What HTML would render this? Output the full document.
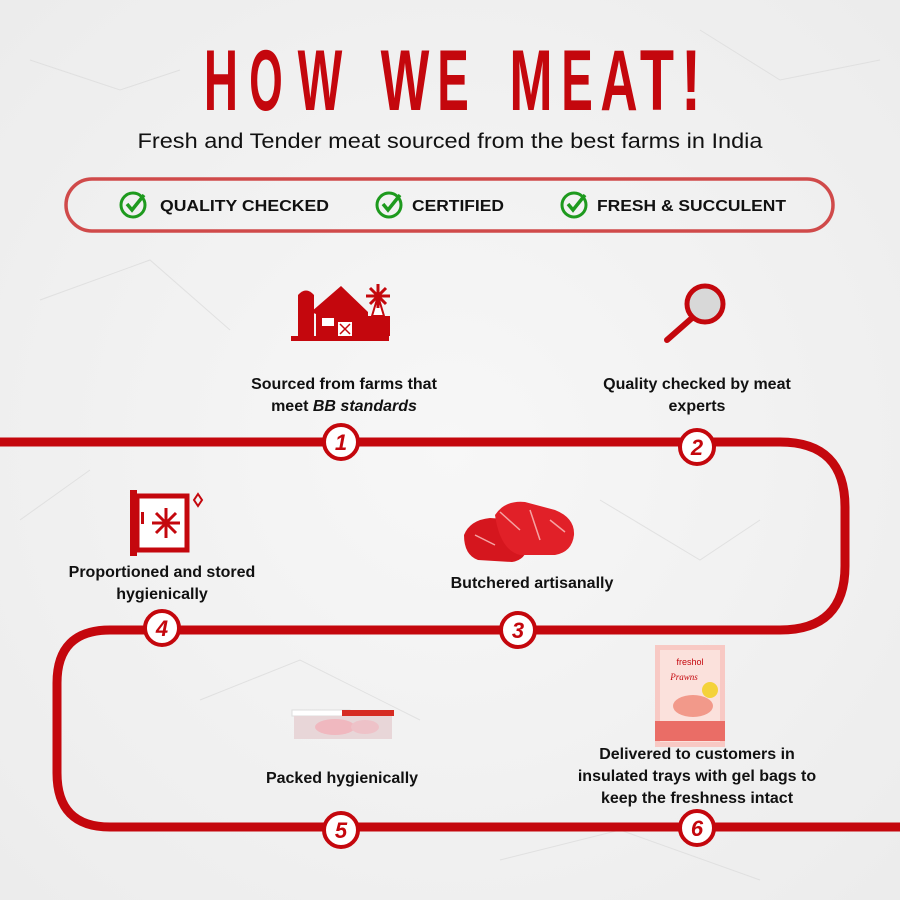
<!DOCTYPE html>
<html><head><style>
html,body{margin:0;padding:0;background:#f2f2f2;}
svg{display:block}
</style></head><body>
<svg width="900" height="900" viewBox="0 0 900 900" xmlns="http://www.w3.org/2000/svg">
<defs>
<radialGradient id="bg" cx="50%" cy="50%" r="70%"><stop offset="0" stop-color="#f7f7f7"/><stop offset="1" stop-color="#ececec"/></radialGradient>
</defs>
<rect width="900" height="900" fill="url(#bg)"/>
<g stroke="#dcdcdc" stroke-width="1" fill="none" opacity="0.8">
<path d="M30 60 L120 90 L180 70"/><path d="M700 30 L780 80 L880 60"/><path d="M40 300 L150 260 L230 330"/><path d="M600 500 L700 560 L760 520"/><path d="M200 700 L300 660 L420 720"/><path d="M500 860 L620 830 L760 880"/><path d="M20 520 L90 470"/>
</g>
<!-- title -->
<g font-family="Liberation Sans, sans-serif" font-weight="bold" font-size="86" fill="#c4070d" text-anchor="middle">
<text transform="translate(221 110) scale(0.55 1)">H</text>
<text transform="translate(266 110) scale(0.5 1)">O</text>
<text transform="translate(320 110) scale(0.55 1)">W</text>
<text transform="translate(405 110) scale(0.6 1)">W</text>
<text transform="translate(453 110) scale(0.55 1)">E</text>
<text transform="translate(531 110) scale(0.6 1)">M</text>
<text transform="translate(577 110) scale(0.55 1)">E</text>
<text transform="translate(619 110) scale(0.6 1)">A</text>
<text transform="translate(657 110) scale(0.65 1)">T</text>
<text transform="translate(691 110) scale(0.7 1)">!</text>
</g>
<text x="450" y="148" text-anchor="middle" font-family="Liberation Sans, sans-serif" font-size="21" fill="#111" textLength="625" lengthAdjust="spacingAndGlyphs">Fresh and Tender meat sourced from the best farms in India</text>
<rect x="66" y="179" width="767" height="52" rx="26" fill="none" stroke="#d04a4a" stroke-width="3.5"/>
<g font-family="Liberation Sans, sans-serif" font-weight="bold" font-size="16" fill="#111">
<g fill="none" stroke="#1e9a1e" stroke-width="3"><circle cx="133" cy="205" r="12"/><circle cx="389" cy="205" r="12"/><circle cx="574" cy="205" r="12"/>
<path d="M127 204 l5 6 l12 -15 M383 204 l5 6 l12 -15 M568 204 l5 6 l12 -15" stroke-width="3.5"/></g>
<text x="160" y="211" textLength="169" lengthAdjust="spacingAndGlyphs">QUALITY CHECKED</text>
<text x="412" y="211" textLength="92" lengthAdjust="spacingAndGlyphs">CERTIFIED</text>
<text x="597" y="211" textLength="189" lengthAdjust="spacingAndGlyphs">FRESH &amp; SUCCULENT</text>
</g>
<!-- path -->
<path d="M0 442 H780 Q845 442 845 507 V566 Q845 630 780 630 H110 Q57 630 57 683 V773 Q57 827 110 827 H900" fill="none" stroke="#c4070d" stroke-width="9"/>
<g fill="#fff" stroke="#c4070d" stroke-width="4">
<circle cx="341" cy="442" r="17"/><circle cx="697" cy="447" r="17"/><circle cx="518" cy="630" r="17"/><circle cx="162" cy="628" r="17"/><circle cx="341" cy="830" r="17"/><circle cx="697" cy="828" r="17"/>
</g>
<g font-family="Liberation Sans, sans-serif" font-weight="bold" font-style="italic" font-size="22" fill="#c4070d" text-anchor="middle">
<text x="341" y="450">1</text><text x="697" y="455">2</text><text x="518" y="638">3</text><text x="162" y="636">4</text><text x="341" y="838">5</text><text x="697" y="836">6</text>
</g>
<!-- labels -->
<g font-family="Liberation Sans, sans-serif" font-weight="bold" font-size="16" fill="#111" text-anchor="middle">
<text x="344" y="389">Sourced from farms that</text>
<text x="344" y="411">meet <tspan font-style="italic">BB standards</tspan></text>
<text x="697" y="389">Quality checked by meat</text>
<text x="697" y="411">experts</text>
<text x="162" y="577">Proportioned and stored</text>
<text x="162" y="599">hygienically</text>
<text x="532" y="588">Butchered artisanally</text>
<text x="342" y="783">Packed hygienically</text>
<text x="697" y="759">Delivered to customers in</text>
<text x="697" y="781">insulated trays with gel bags to</text>
<text x="697" y="803">keep the freshness intact</text>
</g>
<!-- barn icon -->
<g fill="#c4070d">
<rect x="291" y="336" width="98" height="5"/>
<path d="M298 336 V295 Q306 286 314 295 V336Z"/>
<path d="M311 312 L341 286 L368 312 V336 H316 V314Z"/>
<rect x="368" y="316" width="22" height="20"/>
<path d="M372 316 L378 296 L384 316Z" fill="#fff" stroke="#c4070d" stroke-width="2"/>
<circle cx="378" cy="296" r="4"/>
<path d="M378 284 V308 M366 296 H390 M370 288 L386 304 M386 288 L370 304" stroke="#c4070d" stroke-width="3"/>
<rect x="322" y="318" width="12" height="8" fill="#fff"/>
<rect x="338" y="322" width="14" height="14" fill="#fff"/>
<path d="M340 324 L350 334 M350 324 L340 334" stroke="#c4070d" stroke-width="1.5"/>
</g>
<!-- magnifier -->
<circle cx="705" cy="304" r="18" fill="#d8d8d8" stroke="#c4070d" stroke-width="5"/>
<path d="M692 318 L667 340" stroke="#c4070d" stroke-width="6" stroke-linecap="round"/>
<!-- freezer -->
<g>
<rect x="130" y="490" width="7" height="66" fill="#c4070d"/>
<rect x="137" y="496" width="50" height="54" fill="#fff" stroke="#c4070d" stroke-width="5"/>
<rect x="141" y="512" width="3" height="12" fill="#c4070d"/>
<g stroke="#c4070d" stroke-width="3"><path d="M166 508 V538 M152 523 H180 M156 513 L176 533 M176 513 L156 533"/></g>
<path d="M198 494 l4 6 l-4 6 l-4 -6z" fill="none" stroke="#c4070d" stroke-width="2"/>
</g>
<!-- meat -->
<g>
<path d="M464 535 Q470 520 490 518 L520 520 Q530 525 528 545 Q526 560 512 562 L478 560 Q464 555 464 535Z" fill="#d5161e"/>
<path d="M495 515 Q505 500 525 502 L555 510 Q575 518 574 535 Q572 552 555 555 L520 555 Q500 550 495 515Z" fill="#e12028"/>
<path d="M500 512 L520 530 M530 510 L540 540 M550 520 L565 532 M475 535 L495 545" stroke="#f5a3a3" stroke-width="1.5" fill="none"/>
</g>
<!-- tray -->
<g>
<rect x="292" y="710" width="58" height="6" fill="#fff" stroke="#ddd"/>
<rect x="342" y="710" width="52" height="6" fill="#d62b22"/>
<rect x="294" y="716" width="98" height="23" fill="#e8d6d8"/>
<ellipse cx="335" cy="727" rx="20" ry="8" fill="#f0b8bf"/>
<ellipse cx="365" cy="727" rx="14" ry="7" fill="#eec2c8"/>
</g>
<!-- package -->
<g>
<rect x="655" y="645" width="70" height="102" fill="#f8c9c4"/>
<rect x="660" y="650" width="60" height="92" fill="#fbe1dc"/>
<text x="690" y="665" text-anchor="middle" font-family="Liberation Sans, sans-serif" font-size="9" fill="#c4070d">freshol</text>
<text x="684" y="680" text-anchor="middle" font-family="Liberation Serif, serif" font-style="italic" font-size="9" fill="#c4070d">Prawns</text>
<circle cx="710" cy="690" r="8" fill="#f4d23a"/>
<ellipse cx="693" cy="706" rx="20" ry="11" fill="#f2998a"/>
<rect x="655" y="721" width="70" height="20" fill="#ea6d66"/>
</g>
</svg>
</body></html>
